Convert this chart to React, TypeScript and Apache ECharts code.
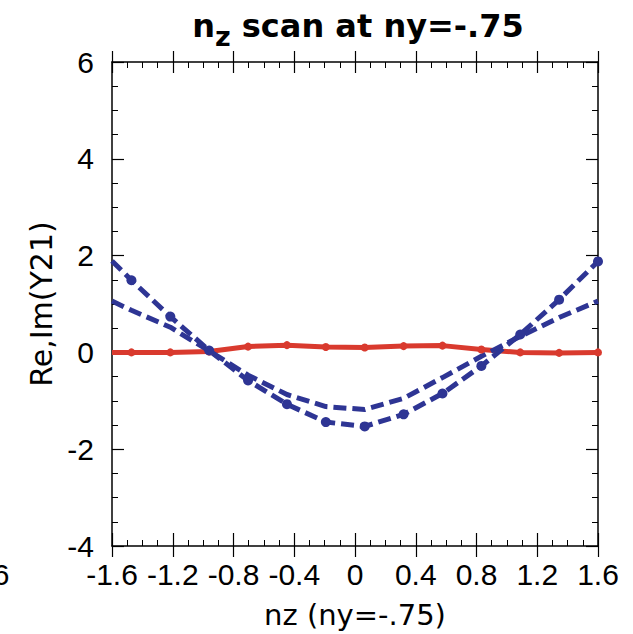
import React, { useEffect, useRef } from "react";
import * as echarts from "echarts";

// nz sample positions
const nzValues = [-1.6, -1.472, -1.216, -0.96, -0.704, -0.448, -0.192, 0.064, 0.32, 0.576, 0.832, 1.088, 1.344, 1.6];
// Re(Y21) – red solid
const reY21 = [0, 0, 0, 0.02, 0.12, 0.15, 0.11, 0.1, 0.13, 0.14, 0.06, 0.0, -0.01, 0];
// Im(Y21) – blue dashed with dots
const imY21Dots = [1.89, 1.49, 0.74, 0.04, -0.58, -1.07, -1.44, -1.53, -1.28, -0.85, -0.28, 0.37, 1.09, 1.88];
// second blue dashed curve (no dots)
const imY21Plain = [1.06, 0.87, 0.52, 0.03, -0.47, -0.87, -1.12, -1.18, -0.95, -0.52, -0.08, 0.33, 0.72, 1.06];

const xMin = -1.6;
const xMax = 1.6;
const xStep = 0.4;
const yMin = -4;
const yMax = 6;
const yStep = 2;

const titleMain = "n";
const titleSub = "z";
const titleRest = " scan at ny=-.75";
const xName = "nz (ny=-.75)";
const yName = "Re,Im(Y21)";
const clippedNeighbourLabel = "1.6";

const RED = "#D93A2E";
const BLUE = "#2E3594";
const LABEL_FONT = "Liberation Sans";
const NAME_FONT = "DejaVu Sans";

function pairs(ys: number[], firstNoSymbol: boolean) {
  return nzValues.map((x, i) =>
    firstNoSymbol && i === 0 ? { value: [x, ys[i]], symbol: "none" } : [x, ys[i]]
  );
}

function measure(txt: string, font: string) {
  const ctx = document.createElement("canvas").getContext("2d");
  if (!ctx) return txt.length * 18;
  ctx.font = font;
  return ctx.measureText(txt).width;
}

export default function App() {
  const ref = useRef<HTMLDivElement>(null);

  useEffect(() => {
    if (!ref.current) return;
    const chart = echarts.init(ref.current, null, { renderer: "svg" });

    const mainSize = 32;
    const subSize = 27;
    const mainFont = `bold ${mainSize}px "${NAME_FONT}"`;
    const subFont = `bold ${subSize}px "${NAME_FONT}"`;
    const wN = measure(titleMain, mainFont);
    const wZ = measure(titleSub, subFont);
    const wRest = measure(titleRest, mainFont);
    const total = wN + wZ + wRest;
    const titleCenter = 358;
    const x0 = titleCenter - total / 2;
    const mainY = 26;
    const subY = 36;

    const titleStyle = (text: string, size: number) => ({
      text,
      align: "left",
      verticalAlign: "middle",
      fontFamily: NAME_FONT,
      fontWeight: "bold",
      fontSize: size,
      fill: "#000",
    });

    const baseX = {
      type: "value" as const,
      min: xMin,
      max: xMax,
      interval: xStep,
      splitLine: { show: false },
      axisLine: { show: true, onZero: false, lineStyle: { color: "#000", width: 1.5 } },
    };
    const baseY = {
      type: "value" as const,
      min: yMin,
      max: yMax,
      interval: yStep,
      splitLine: { show: false },
      axisLine: { show: true, onZero: false, lineStyle: { color: "#000", width: 1.5 } },
    };

    chart.setOption({
      animation: false,
      backgroundColor: "#fff",
      grid: { left: 112, right: 35, top: 62, bottom: 87, containLabel: false },
      xAxis: [
        {
          ...baseX,
          position: "bottom",
          axisTick: { show: true, inside: true, length: 13, lineStyle: { color: "#000", width: 1.2 } },
          minorTick: { show: true, splitNumber: 4, length: 6, lineStyle: { color: "#000", width: 1 } },
          axisLabel: { color: "#000", fontFamily: LABEL_FONT, fontSize: 30, margin: 13 },
          name: xName,
          nameLocation: "middle",
          nameGap: 54,
          nameTextStyle: { color: "#000", fontFamily: NAME_FONT, fontSize: 29 },
        },
        {
          ...baseX,
          position: "bottom",
          axisLine: { show: false, onZero: false },
          axisTick: { show: true, inside: false, length: 11, lineStyle: { color: "#000", width: 1.2 } },
          axisLabel: { show: false },
        },
        {
          ...baseX,
          position: "top",
          axisTick: { show: true, inside: true, length: 11, lineStyle: { color: "#000", width: 1.2 } },
          minorTick: { show: true, splitNumber: 4, length: 6, lineStyle: { color: "#000", width: 1 } },
          axisLabel: { show: false },
        },
        {
          ...baseX,
          position: "top",
          axisLine: { show: false, onZero: false },
          axisTick: { show: true, inside: false, length: 11, lineStyle: { color: "#000", width: 1.2 } },
          axisLabel: { show: false },
        },
      ],
      yAxis: [
        {
          ...baseY,
          position: "left",
          axisTick: { show: true, inside: true, length: 12, lineStyle: { color: "#000", width: 1.2 } },
          minorTick: { show: true, splitNumber: 4, length: 6, lineStyle: { color: "#000", width: 1 } },
          axisLabel: { color: "#000", fontFamily: LABEL_FONT, fontSize: 30, margin: 18 },
          name: yName,
          nameLocation: "middle",
          nameGap: 55,
          nameTextStyle: { color: "#000", fontFamily: NAME_FONT, fontSize: 30 },
        },
        {
          ...baseY,
          position: "right",
          axisTick: { show: true, inside: true, length: 12, lineStyle: { color: "#000", width: 1.2 } },
          minorTick: { show: true, splitNumber: 4, length: 6, lineStyle: { color: "#000", width: 1 } },
          axisLabel: { show: false },
        },
      ],
      graphic: [
        { type: "text", x: x0, y: mainY, style: titleStyle(titleMain, mainSize) },
        { type: "text", x: x0 + wN, y: subY, style: titleStyle(titleSub, subSize) },
        { type: "text", x: x0 + wN + wZ, y: mainY, style: titleStyle(titleRest, mainSize) },
        {
          type: "text",
          x: 9.5,
          y: 574,
          style: {
            text: clippedNeighbourLabel,
            align: "right",
            verticalAlign: "middle",
            fontFamily: LABEL_FONT,
            fontSize: 30,
            fill: "#000",
          },
        },
      ],
      series: [
        {
          type: "line",
          xAxisIndex: 0,
          yAxisIndex: 0,
          data: pairs(reY21, true),
          symbol: "circle",
          symbolSize: 8,
          itemStyle: { color: RED },
          lineStyle: { color: RED, width: 5 },
          clip: true,
        },
        {
          type: "line",
          xAxisIndex: 0,
          yAxisIndex: 0,
          data: pairs(imY21Plain, true),
          showSymbol: false,
          symbol: "none",
          lineStyle: { color: BLUE, width: 5, type: [13, 6] },
          clip: true,
        },
        {
          type: "line",
          xAxisIndex: 0,
          yAxisIndex: 0,
          data: pairs(imY21Dots, true),
          symbol: "circle",
          symbolSize: 10,
          itemStyle: { color: BLUE },
          lineStyle: { color: BLUE, width: 5, type: [13, 6] },
          clip: true,
        },
      ],
    });

    return () => chart.dispose();
  }, []);

  return (
    <div
      ref={ref}
      style={{ position: "absolute", left: 0, top: 0, width: 633, height: 634 }}
    />
  );
}
